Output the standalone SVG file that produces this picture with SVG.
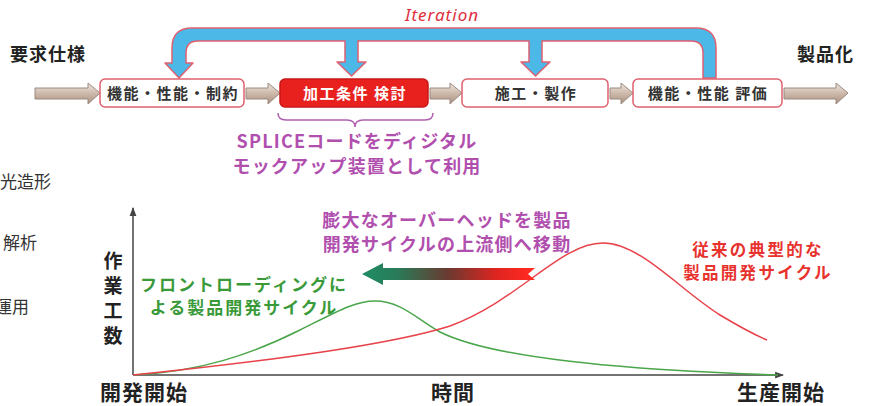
<svg xmlns="http://www.w3.org/2000/svg" width="869" height="406" viewBox="0 0 869 406">
<defs>
<linearGradient id="flow" x1="0" y1="0" x2="0" y2="1">
<stop offset="0" stop-color="#efe6df"/>
<stop offset="0.5" stop-color="#cdb9ab"/>
<stop offset="1" stop-color="#a8907f"/>
</linearGradient>
<linearGradient id="shift" gradientUnits="userSpaceOnUse" x1="365" y1="0" x2="530" y2="0">
<stop offset="0" stop-color="#1f8c64"/>
<stop offset="0.2" stop-color="#2a7a58"/>
<stop offset="0.5" stop-color="#6a3a30"/>
<stop offset="0.8" stop-color="#e02420"/>
<stop offset="1" stop-color="#ff2a22"/>
</linearGradient>
<marker id="ah" viewBox="0 0 8 8" refX="7" refY="4" markerWidth="6" markerHeight="6" orient="auto">
<path d="M0,1 L8,4 L0,7 Z" fill="#444"/>
</marker>
<style>
.jp{font-family:"Noto Sans CJK JP","Noto Sans",sans-serif;font-weight:bold;}
.box{fill:#fff;stroke:#e0606e;stroke-width:1.5;}
.flow{fill:url(#flow);stroke:#9a8a80;stroke-width:1;}
.btxt{font-size:15px;fill:#333;text-anchor:middle;letter-spacing:1.5px;}
.side{font-family:"Noto Sans CJK JP",sans-serif;font-size:17px;fill:#333;}
.purple{fill:#b14fae;font-size:18px;letter-spacing:1.2px;}
.green{fill:#3a9a3a;font-size:17px;letter-spacing:2px;}
.red{fill:#e8322e;font-size:16.5px;letter-spacing:2.3px;}
.axis{fill:none;stroke:#444;stroke-width:1.5;}
</style>
</defs>

<text x="442" y="21" font-family="Noto Sans, sans-serif" font-style="italic" font-size="17" letter-spacing="1" fill="#e03040" text-anchor="middle">Iteration</text>

<g id="iteration">
<path d="M179,78 L165,63 L172,63 L172,48 Q172,28 192,28 L696,28 Q716,28 716,48 L716,78 L703,78 L703,53 Q703,41 691,41 L542,41 L542,62 L550,62 L535.5,76 L521,62 L529,62 L529,41 L358,41 L358,62 L366,62 L351.5,76 L337,62 L345,62 L345,41 L198,41 Q186,41 186,53 L186,63 L193,63 Z" fill="#4bb8e8" stroke="#e06070" stroke-width="1.5" stroke-linejoin="round"/>
</g>

<text class="jp" x="10" y="61" font-size="18" letter-spacing="1" fill="#222">要求仕様</text>
<text class="jp" x="797" y="61" font-size="18" letter-spacing="1" fill="#222">製品化</text>

<g id="connectors">
<path class="flow" d="M35,88 H88 V83 L100,93 L88,104 V99 H35 Z"/>
<path class="flow" d="M246,88 H268 V83 L280,93 L268,104 V99 H246 Z"/>
<path class="flow" d="M430,88 H450 V83 L462,93 L450,104 V99 H430 Z"/>
<path class="flow" d="M610,88 H621 V83 L633,93 L621,104 V99 H610 Z"/>
<path class="flow" d="M784,88 H836 V83 L848,93 L836,104 V99 H784 Z"/>
</g>

<g id="n1">
<rect class="box" x="100" y="79" width="144" height="28" rx="5"/>
<text class="jp btxt" x="173" y="98.5">機能・性能・制約</text>
</g>
<g id="n2">
<rect x="280" y="79" width="148" height="28" rx="5" fill="#e8201e" stroke="#c81818" stroke-width="1.5"/>
<text class="jp btxt" x="355" y="98.5" style="fill:#fff">加工条件 検討</text>
</g>
<g id="n3">
<rect class="box" x="462" y="79" width="146" height="28" rx="5"/>
<text class="jp btxt" x="536" y="98.5">施工・製作</text>
</g>
<g id="n4">
<rect class="box" x="633" y="79" width="149" height="28" rx="5"/>
<text class="jp btxt" x="708" y="98.5">機能・性能 評価</text>
</g>

<g id="brace">
<path d="M278,113 Q278,120 286,120 L347,120 Q355,120 355,127 Q355,120 363,120 L425,120 Q433,120 433,113" fill="none" stroke="#b060b0" stroke-width="1.5"/>
</g>
<text class="jp purple" x="357" y="148" text-anchor="middle">SPLICEコードをディジタル</text>
<text class="jp purple" x="357" y="173" text-anchor="middle">モックアップ装置として利用</text>

<text class="side" x="0" y="188">光造形</text>
<text class="side" x="3" y="249">解析</text>
<text class="side" x="-5" y="313">運用</text>

<g id="chart">
<path class="axis" d="M133,375 V208" marker-end="url(#ah)"/>
<path class="axis" d="M133,375 H783" marker-end="url(#ah)"/>
<path d="M133,375 C 200,372 252,354 300,330 C 338,311 355,301 375,301 C 400,301 416,318 440,332 C 480,352 560,362 640,368 C 700,372 740,374 778,375" fill="none" stroke="#4aa64a" stroke-width="1.5"/>
<path d="M133,375 C 260,362 390,345 450,326 C 520,300 560,243 603,243 C 640,243 680,290 720,315 C 740,327 755,335 767,340" fill="none" stroke="#e8424a" stroke-width="1.5"/>
<path d="M362,274 L383,263 L383,268 L535,268 L528,274 L535,280 L383,280 L383,285 Z" fill="url(#shift)"/>
</g>

<g class="jp" font-size="19" fill="#222" text-anchor="middle">
<text x="113" y="268">作</text>
<text x="113" y="293">業</text>
<text x="113" y="318">工</text>
<text x="113" y="343">数</text>
</g>

<text class="jp" x="100" y="400" font-size="21" letter-spacing="1" fill="#222">開発開始</text>
<text class="jp" x="431" y="400" font-size="21" letter-spacing="1" fill="#222">時間</text>
<text class="jp" x="737" y="400" font-size="21" letter-spacing="1" fill="#222">生産開始</text>

<text class="jp green" x="244" y="291" text-anchor="middle">フロントローディングに</text>
<text class="jp green" x="244" y="314" text-anchor="middle">よる製品開発サイクル</text>

<text class="jp purple" x="447" y="227" text-anchor="middle">膨大なオーバーヘッドを製品</text>
<text class="jp purple" x="447" y="251" text-anchor="middle">開発サイクルの上流側へ移動</text>

<text class="jp red" x="758" y="256" text-anchor="middle">従来の典型的な</text>
<text class="jp red" x="758" y="279" text-anchor="middle">製品開発サイクル</text>
</svg>
